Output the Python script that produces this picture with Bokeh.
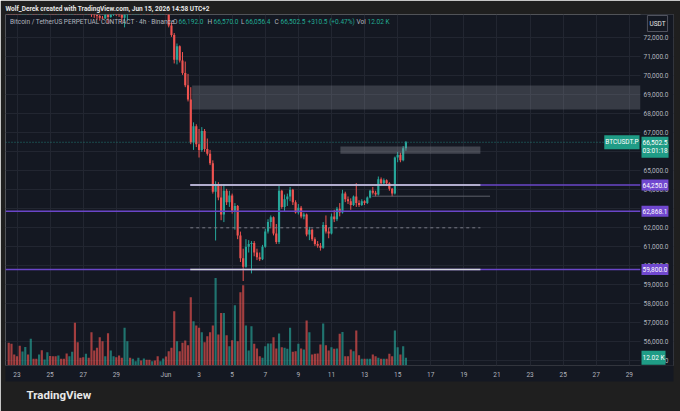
import pandas as pd
from bokeh.plotting import figure
from bokeh.models import (Range1d, FixedTicker, NumeralTickFormatter, Label, Title,
                          ColumnDataSource)
from bokeh.embed import file_html
from bokeh.resources import INLINE

# ---------------- data (BTCUSDT.P, 4h candles, UTC+2) ----------------
first_candle = "2026-05-22 12:00"

opens = [74800, 74500, 74200, 74050, 73950, 73700, 73900, 74150, 74000, 74400,
         74300, 74250, 74400, 74200, 74250, 74450, 74350, 74250, 74150, 74300,
         74200, 74150, 74000, 74100, 74300, 73600, 73450, 73400, 73350, 73500,
         73400, 73250, 73200, 73150, 73050, 73020, 73250, 73100, 73300, 73400,
         73300, 73200, 73050, 73500, 73800, 73700, 73750, 73850, 73950, 73900,
         74000, 73900, 73800, 73850, 73700, 73450, 73500,
         73600, 73300, 72650, 72150, 70850, 71550, 70800, 70150, 69500, 68750,
         66500, 67350, 66400, 66100, 67100, 66150, 65900, 65400, 63900, 64300,
         63600, 62700, 63950, 63350, 63700, 62900, 63150, 61600, 60400, 59950,
         61000, 61150, 61200, 60700, 60450, 60350, 61000, 61800, 62300, 62550,
         61700, 61250, 63950, 63100, 63500, 63650, 64000, 63350, 62800, 63050,
         62600, 62700, 61650, 61900, 61400, 61150, 61050, 60950, 62150, 61800,
         61700, 62600, 62450, 63000, 62800, 63800, 63500, 63400, 63200, 63650,
         63300, 63200, 63400, 63300, 63600, 63950, 63850, 63750, 64550, 64350,
         64500, 64350, 64050, 63800, 65700, 65850, 65550, 66192.0]
highs = [74900, 74600, 74300, 74150, 74000, 74000, 74250, 74200, 74500, 74450,
         74350, 74450, 74450, 74300, 74500, 74500, 74400, 74300, 74350, 74350,
         74250, 74200, 74150, 74350, 74350, 73700, 73550, 73500, 73550, 73550,
         73450, 73350, 73300, 73200, 73150, 73300, 73300, 73350, 73450, 73450,
         73350, 73250, 73600, 73900, 73850, 73800, 73900, 74000, 74000, 74050,
         74050, 73950, 73900, 73900, 73750, 73550, 73650,
         73700, 73400, 72800, 72250, 71700, 71600, 71250, 70750, 70100, 69400,
         67550, 67450, 67200, 67300, 67200, 66700, 66100, 65550, 64450, 64400,
         64300, 64300, 64050, 63950, 63800, 63300, 63200, 61800, 60900, 61400,
         61350, 61300, 61300, 60900, 60700, 61100, 61950, 62450, 62650, 62600,
         62200, 64250, 64000, 63750, 63800, 64150, 64050, 63450, 63250, 63150,
         62800, 62750, 62050, 61950, 61500, 61300, 61200, 62300, 62650, 62000,
         62750, 62950, 63100, 63300, 64000, 63900, 63650, 63550, 63700, 64350,
         63450, 63500, 63450, 63650, 64000, 64150, 63950, 64700, 64650, 64600,
         64550, 64400, 64100, 65750, 66000, 65950, 66300, 66570.0]
lows = [74400, 74100, 73950, 73850, 73600, 73650, 73850, 73900, 73950, 74250,
        74150, 74200, 74100, 74150, 74200, 74300, 74200, 74100, 74100, 74150,
        74100, 73950, 73950, 74050, 73500, 73300, 73350, 73300, 73300, 73350,
        73100, 73050, 72950, 72900, 73000, 73000, 72750, 73050, 73150, 73150,
        73100, 72800, 72550, 72900, 73650, 73650, 73700, 73800, 73850, 73850,
        73850, 73750, 73750, 73650, 73400, 73400, 73450,
        73250, 72550, 72050, 70650, 70600, 70700, 70050, 69400, 68650, 66400,
        66100, 66250, 65700, 66000, 66000, 65800, 65300, 63800, 61330, 63450,
        62400, 62300, 63200, 63100, 62750, 61900, 61400, 60200, 59200, 59900,
        60700, 59600, 60500, 60300, 60250, 60300, 60950, 61700, 62050, 61600,
        61150, 61150, 63000, 62850, 63150, 63400, 63200, 62750, 62700, 62500,
        62450, 61550, 61350, 61300, 61050, 60950, 60800, 60900, 61700, 61450,
        61650, 62300, 62350, 62600, 62750, 63350, 63250, 62950, 63150, 63100,
        63100, 63150, 63200, 63250, 63550, 63750, 63650, 63700, 64250, 64300,
        64200, 63950, 63650, 63750, 65450, 65450, 65500, 66056.4]
closes = [74500, 74200, 74050, 73950, 73700, 73900, 74150, 74000, 74400, 74300,
          74250, 74400, 74200, 74250, 74450, 74350, 74250, 74150, 74300, 74200,
          74150, 74000, 74100, 74300, 73600, 73450, 73400, 73350, 73500, 73400,
          73250, 73200, 73150, 73050, 73020, 73250, 73100, 73300, 73400, 73300,
          73200, 73050, 73500, 73800, 73700, 73750, 73850, 73950, 73900, 74000,
          73900, 73800, 73850, 73700, 73450, 73500, 73600,
          73300, 72650, 72150, 70850, 71550, 70800, 70150, 69500, 68750, 66500,
          67350, 66400, 66100, 67100, 66150, 65900, 65400, 63900, 64300, 63600,
          62700, 63950, 63350, 63700, 62900, 63150, 61600, 60400, 59950, 61000,
          61150, 61200, 60700, 60450, 60350, 61000, 61800, 62300, 62550, 61700,
          61250, 63950, 63100, 63500, 63650, 64000, 63350, 62800, 63050, 62600,
          62700, 61650, 61900, 61400, 61150, 61050, 60950, 62150, 61800, 61700,
          62600, 62450, 63000, 62800, 63800, 63500, 63400, 63200, 63650, 63300,
          63200, 63400, 63300, 63600, 63950, 63850, 63750, 64550, 64350, 64500,
          64350, 64050, 63800, 65700, 65850, 65550, 66192, 66502.5]
volumes_k = [35.4, 33.8, 17.0, 14.6, 31.0, 22.0, 29.0, 17.0, 41.6, 10.4,
             10.4, 17.0, 24.0, 9.4, 20.8, 15.0, 14.6, 14.6, 15.6, 10.4,
             10.4, 18.7, 14.6, 21.3, 66.6, 36.4, 12.0, 13.0, 18.2, 12.0,
             52.0, 23.4, 27.6, 44.2, 38.0, 14.6, 50.4, 23.4, 14.6, 13.0,
             15.6, 12.0, 58.8, 38.0, 12.0, 10.4, 6.8, 12.0, 7.8, 11.0,
             8.8, 8.8, 6.8, 7.8, 14.6, 6.8, 11.0,
             14.0, 22.4, 27.6, 84.8, 38.0, 22.4, 35.4, 39.0, 31.7, 106.6,
             69.2, 62.4, 58.8, 52.0, 36.4, 45.8, 52.0, 62.4, 136.8, 48.4,
             82.0, 82.0, 47.3, 30.0, 39.5, 94.0, 38.0, 114.4, 125.3, 62.4,
             23.4, 61.4, 33.8, 26.5, 14.6, 12.0, 30.0, 34.3, 34.3, 44.2,
             26.5, 50.0, 28.6, 27.6, 26.0, 58.8, 21.3, 22.4, 33.8, 26.5,
             25.0, 70.2, 52.0, 17.2, 18.2, 18.7, 32.8, 65.5, 31.7, 23.4,
             28.6, 26.0, 26.5, 49.4, 52.5, 14.6, 14.6, 25.0, 22.4, 54.6,
             16.0, 10.4, 10.4, 10.4, 10.4, 17.0, 14.6, 12.0, 10.4, 10.4,
             10.4, 18.2, 14.6, 54.6, 28.6, 17.2, 30.0, 12.02]

tick_dates = ["2026-05-23", "2026-05-25", "2026-05-27", "2026-05-29", "2026-06-01",
              "2026-06-03", "2026-06-05", "2026-06-07", "2026-06-09", "2026-06-11",
              "2026-06-13", "2026-06-15", "2026-06-17", "2026-06-19", "2026-06-21",
              "2026-06-23", "2026-06-25", "2026-06-27", "2026-06-29"]
tick_labels = ["23", "25", "27", "29", "Jun", "3", "5", "7", "9", "11", "13", "15",
               "17", "19", "21", "23", "25", "27", "29"]
price_ticks = [55000, 56000, 57000, 58000, 59000, 60000, 61000, 62000, 63000,
               64000, 65000, 66000, 67000, 68000, 69000, 70000, 71000, 72000]

# drawings on the chart
level_top = 64250.0
level_mid = 62868.1
level_low = 59800.0
level_dash = 62000.0
level_thin = 63663.0
zone_big = (68220.0, 69490.0)
zone_small = (65895.0, 66280.0)
draw_start = "2026-06-02 11:15"
draw_end = "2026-06-20 00:00"
zone_big_start = "2026-06-02 14:00"
zone_small_start = "2026-06-11 13:00"
thin_start = "2026-06-13 11:00"
thin_end = "2026-06-20 14:00"
countdown = "03:01:18"
header = "Wolf_Derek created with TradingView.com, Jun 15, 2026 14:58 UTC+2"
symbol_desc = "Bitcoin / TetherUS PERPETUAL CONTRACT · 4h · Binance"

# ---------------- helpers ----------------
ORIGIN = pd.Timestamp("2026-05-01")


def day_num(ts):
    return (pd.Timestamp(ts) - ORIGIN) / pd.Timedelta(days=1) + 1


times = pd.date_range(first_candle, periods=len(closes), freq="4h")
xs = [day_num(t) for t in times]

# layout (page pixels)
W, H = 680, 411
PX_DAY, DAY0, PX0 = 16.55, 23.0, 16.5
PY_PER, P0, PY0 = 0.019, 72000.0, 37.3
FL, FR, FT, FB = 5, 673, 14, 365      # pane (frame) incl. price-scale strip
AX_L = 640                            # left edge of the price-scale strip
VOL_PER_PX = 1.562

x_start = DAY0 + (FL - PX0) / PX_DAY
x_end = DAY0 + (FR - PX0) / PX_DAY
y_end = P0 + (PY0 - FT) / PY_PER
y_start = P0 - (FB - PY0) / PY_PER


def sx(px):
    return DAY0 + (px - PX0) / PX_DAY


def sy(py):
    return P0 - (py - PY0) / PY_PER


PANE = "#141822"
OUTER = "#1f1f1f"
GRID = "#222631"
UP = "#26a69a"
DOWN = "#ef5350"
TAG_UP = "#1f9c86"
PURPLE = "#6a46c8"
PURPLE_TAG = "#7048cf"
TXT = "#b2b5be"
WHITE_LINE = "#d1d4dc"
FONT = "Roboto"

p = figure(width=W, height=H, output_backend="svg", toolbar_location=None,
           x_range=Range1d(x_start, x_end), y_range=Range1d(y_start, y_end),
           y_axis_location="right",
           min_border_left=FL, min_border_right=W - FR,
           min_border_top=FT, min_border_bottom=H - FB,
           background_fill_color=PANE, border_fill_color=OUTER,
           outline_line_color=None)
p.extra_y_ranges = {"vol": Range1d(0, (FB - FT) * VOL_PER_PX)}

# header / footer titles
p.add_layout(Title(text=header, align="left", text_font=FONT, text_font_size="6.5px",
                   text_font_style="bold", text_color="#e6e6e6", standoff=3, offset=0),
             "above")

# axes
p.yaxis.ticker = FixedTicker(ticks=price_ticks, minor_ticks=[])
p.yaxis.formatter = NumeralTickFormatter(format="0,0.0")
tick_days = [int(round(day_num(d))) for d in tick_dates]
p.xaxis.ticker = FixedTicker(ticks=tick_days, minor_ticks=[])
p.xaxis.major_label_overrides = {d: lab for d, lab in zip(tick_days, tick_labels)}
for ax in (p.xaxis[0], p.yaxis[0]):
    ax.axis_line_color = None
    ax.major_tick_line_color = None
    ax.minor_tick_line_color = None
    ax.major_tick_out = 0
    ax.major_tick_in = 0
    ax.major_label_text_font_size = "6.5px"
    ax.major_label_text_color = TXT
    ax.major_label_text_font = FONT
    try:
        ax.background_fill_color = PANE
    except Exception:
        pass
p.yaxis.major_label_standoff = AX_L + 3 - FR
p.xaxis.major_label_standoff = 5

p.add_layout(Title(text="TradingView", align="left", text_font=FONT,
                   text_font_size="11.5px", text_font_style="bold",
                   text_color="#e8e8e8", standoff=9, offset=21), "below")

p.xgrid.ticker = FixedTicker(ticks=tick_days, minor_ticks=[])
p.ygrid.ticker = FixedTicker(ticks=price_ticks, minor_ticks=[])
p.xgrid.grid_line_color = GRID
p.ygrid.grid_line_color = GRID

ax_left = sx(AX_L)

# volume
up = [c >= o for o, c in zip(opens, closes)]
vsrc = ColumnDataSource(dict(x=xs, v=volumes_k,
                             color=[UP if u else DOWN for u in up]))
p.vbar(x="x", top="v", bottom=0, width=0.13, source=vsrc, y_range_name="vol",
       fill_color="color", fill_alpha=0.65, line_color=None)

# candles
csrc = ColumnDataSource(dict(x=xs, o=opens, h=highs, l=lows, c=closes,
                             top=[max(o, c) for o, c in zip(opens, closes)],
                             bot=[min(o, c) for o, c in zip(opens, closes)],
                             color=[UP if u else DOWN for u in up]))
p.segment(x0="x", y0="l", x1="x", y1="h", line_color="color", line_width=1, source=csrc)
p.vbar(x="x", top="top", bottom="bot", width=0.13, fill_color="color",
       line_color=None, source=csrc)

# drawings
ds, de = day_num(draw_start), day_num(draw_end)
p.quad(left=[day_num(zone_big_start)], right=[ax_left], bottom=[zone_big[0]],
       top=[zone_big[1]], fill_color="#9598a1", fill_alpha=0.28, line_color=None)
p.quad(left=[day_num(zone_small_start)], right=[de], bottom=[zone_small[0]],
       top=[zone_small[1]], fill_color="#9598a1", fill_alpha=0.35, line_color=None)
p.segment(x0=[x_start, x_start, ds], x1=[ax_left, ax_left, ax_left],
          y0=[level_mid, level_low, level_top], y1=[level_mid, level_low, level_top],
          line_color=PURPLE, line_width=1.5)
p.segment(x0=[ds, ds], x1=[de, de], y0=[level_top, level_low], y1=[level_top, level_low],
          line_color=WHITE_LINE, line_width=1.5)
p.segment(x0=[ds], x1=[de], y0=[level_dash], y1=[level_dash], line_color="#787b86",
          line_width=1, line_dash="3 3")
p.segment(x0=[day_num(thin_start)], x1=[day_num(thin_end)], y0=[level_thin],
          y1=[level_thin], line_color="#5d606b", line_width=1)
p.segment(x0=[x_start], x1=[ax_left], y0=[closes[-1]], y1=[closes[-1]], line_color=UP,
          line_alpha=0.7, line_width=1, line_dash="1 2")

# price-scale strip background (covers grid inside the strip)
p.quad(left=[ax_left], right=[x_end + 1], bottom=[y_start - 5000], top=[y_end + 5000],
       fill_color=PANE, line_color=None)


def lab(x, y, text, size="6.5px", color=TXT, bold=False, align="left",
        bg=None, pad=0, border=None, yr="default"):
    kw = dict(x=x, y=y, text=text, text_font=FONT, text_font_size=size,
              text_color=color, text_align=align, text_baseline="middle",
              text_font_style="bold" if bold else "normal", y_range_name=yr)
    if bg is not None:
        kw.update(background_fill_color=bg, padding=pad)
    if border is not None:
        kw.update(border_line_color=border)
    p.add_layout(Label(**kw))


# legend line
ly = sy(21)
lab(sx(9.5), ly, symbol_desc)
chg = closes[-1] - opens[-1]
pct = chg / opens[-1] * 100
GREEN = "#22ab94"
pieces = [(172.5, "O", TXT), (178, f"{opens[-1]:,.1f}", GREEN),
          (207, "H", TXT), (213, f"{highs[-1]:,.1f}", GREEN),
          (240.5, "L", TXT), (245, f"{lows[-1]:,.1f}", GREEN),
          (274, "C", TXT), (280, f"{closes[-1]:,.1f}", GREEN),
          (307, f"{chg:+.1f} ({pct:+.2f}%)", GREEN),
          (356, "Vol", TXT), (367, f"{volumes_k[-1]:.2f} K", GREEN)]
for px, t, col in pieces:
    lab(sx(px), ly, t, color=col)

# price-scale tags
tag_x = sx(AX_L + 1)
lab(sx(657), sy(23), "USDT", color="#e6e6e6", align="center", bg=PANE,
    pad=(2, 4), border="#50535e")
for lv in (level_top, level_mid, level_low):
    lab(tag_x, lv, f"{lv:,.1f}", color="white", bg=PURPLE_TAG, pad=(1, 3))
lab(tag_x, sy(150.3), countdown, color="white", bg=TAG_UP, pad=(1, 3))
lab(tag_x, closes[-1], f"{closes[-1]:,.1f}", color="white", bg=TAG_UP, pad=(1, 3))
lab(sx(AX_L - 1), closes[-1], "BTCUSDT.P", color="white", align="right", bg=TAG_UP,
    pad=(1, 3))
lab(tag_x, volumes_k[-1], f"{volumes_k[-1]:.2f} K", color="white", bg=TAG_UP,
    pad=(1, 3), yr="vol")

html = file_html(p, INLINE, title="BTCUSDT.P 4h")
html = html.replace("<body", '<body style="background-color:#1f1f1f;"', 1)
open("out.html", "w").write(html)
